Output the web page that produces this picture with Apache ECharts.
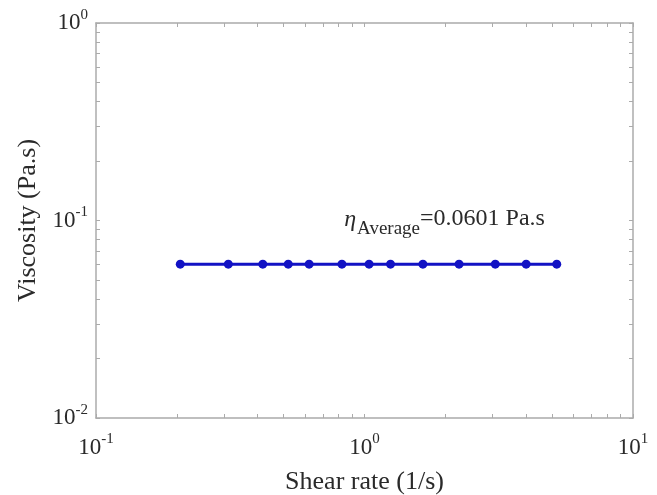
<!DOCTYPE html>
<html>
<head>
<meta charset="utf-8">
<script src="https://cdn.jsdelivr.net/npm/echarts@6/dist/echarts.min.js"></script>
<style>html,body{margin:0;padding:0;background:#fff}#c{width:657px;height:495px}</style>
</head>
<body>
<div id="c"></div>
<script>
const shearRate = [0.206, 0.311, 0.418, 0.52, 0.622, 0.824, 1.04, 1.25, 1.65, 2.25, 3.07, 4.0, 5.2];
const viscosity = [0.0601, 0.0601, 0.0601, 0.0601, 0.0601, 0.0601, 0.0601, 0.0601, 0.0601, 0.0601, 0.0601, 0.0601, 0.0601];
const xTickLabels = [0.1, 1, 10];
const yTickLabels = [0.01, 0.1, 1];
const xMinorTicks = [0.1,0.2,0.3,0.4,0.5,0.6,0.7,0.8,0.9,1,2,3,4,5,6,7,8,9,10];
const yMinorTicks = [0.01,0.02,0.03,0.04,0.05,0.06,0.07,0.08,0.09,0.1,0.2,0.3,0.4,0.5,0.6,0.7,0.8,0.9,1];
const annotation = {x: 0.84, y: 0.102, text: '=0.0601 Pa.s'};

const FONT = 'Liberation Serif';
const TXT = '#2a2a2a';
const fmt = v => '{b|10}{s|' + Math.round(Math.log10(v)) + '}';
const rich = {
  b: {fontSize: 23, fontFamily: FONT, color: TXT},
  s: {fontSize: 15, fontFamily: FONT, color: TXT, padding: [0, 0, 16, 0]}
};
const lineCol = '#ababab';

function axis(pos, isX, show) {
  return {
    type: 'log', logBase: 10,
    min: isX ? 0.1 : 0.01, max: isX ? 10 : 1,
    position: pos,
    axisLine: {show: true, onZero: false, lineStyle: {color: lineCol, width: 1.5}},
    axisTick: {show: true, inside: true, length: 4, lineStyle: {color: lineCol},
      customValues: isX ? xMinorTicks : yMinorTicks},
    minorTick: {show: false},
    splitLine: {show: false},
    axisLabel: show ? {
      show: true, formatter: fmt, rich: rich,
      customValues: isX ? xTickLabels : yTickLabels,
      margin: isX ? 14 : 8, showMinLabel: true, showMaxLabel: true
    } : {show: false},
    name: show ? (isX ? 'Shear rate (1/s)' : 'Viscosity (Pa.s)') : '',
    nameLocation: 'middle',
    nameGap: isX ? 51 : 55,
    nameTextStyle: {fontSize: 26, fontFamily: FONT, color: TXT}
  };
}

const chart = echarts.init(document.getElementById('c'));
chart.setOption({
  animation: false,
  backgroundColor: '#fff',
  grid: {left: 96, top: 23, right: 24, bottom: 77, containLabel: false, outerBoundsMode: 'none'},
  xAxis: [axis('bottom', true, true), axis('top', true, false)],
  yAxis: [axis('left', false, true), axis('right', false, false)],
  series: [{
    type: 'line',
    data: shearRate.map((x, i) => [x, viscosity[i]]),
    symbol: 'circle', symbolSize: 9,
    lineStyle: {color: '#1212c4', width: 3},
    itemStyle: {color: '#1212c4'}
  }]
});
const p = chart.convertToPixel({gridIndex: 0}, [annotation.x, annotation.y]);
chart.setOption({
  graphic: [{
    type: 'text', x: p[0], y: p[1],
    style: {
      text: '{e|η}{a|Average}{t|' + annotation.text + '}',
      verticalAlign: 'middle', align: 'left',
      rich: {
        e: {fontSize: 24, fontStyle: 'italic', fontFamily: FONT, fill: TXT, padding: [2, 1, 0, 0]},
        a: {fontSize: 19, fontFamily: FONT, fill: TXT, padding: [20, 0, 0, 0]},
        t: {fontSize: 24, fontFamily: FONT, fill: TXT}
      }
    }
  }]
});
</script>
</body>
</html>
